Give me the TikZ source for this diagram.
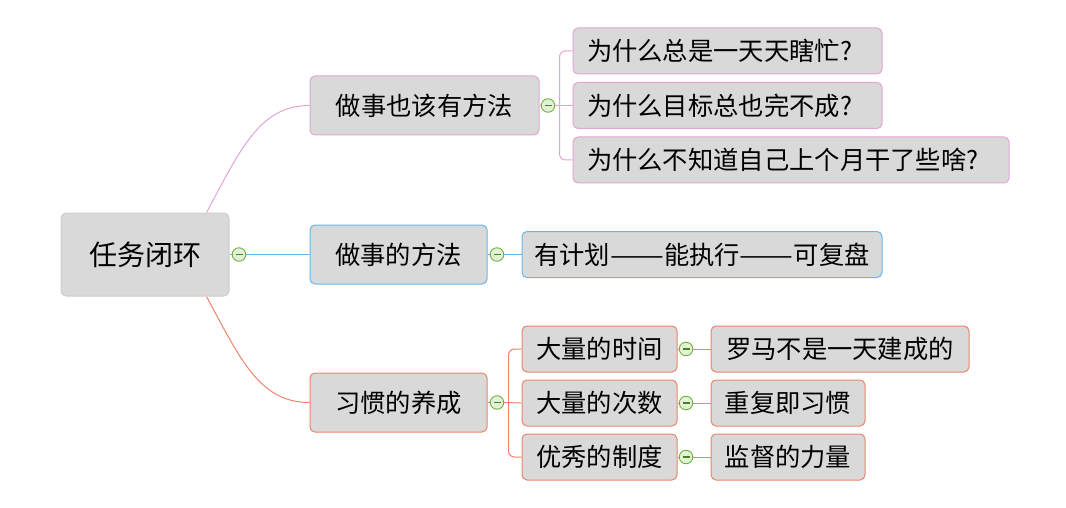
\documentclass[tikz,border=0pt]{standalone}
\usepackage{fontspec}
\newfontfamily\cjk{Noto Sans CJK SC}
\usetikzlibrary{calc,backgrounds}
\definecolor{boxfill}{RGB}{217,217,217}
\definecolor{rootborder}{RGB}{205,205,205}
\definecolor{cpink}{RGB}{228,164,214}
\definecolor{cblue}{RGB}{104,182,234}
\definecolor{corange}{RGB}{234,132,106}
\definecolor{cgreen}{RGB}{112,176,62}
\definecolor{cfill}{RGB}{226,242,212}
\definecolor{cdark}{RGB}{70,130,40}
\newcommand{\longdash}{\scalebox{1.27}[1]{——}}
\newcommand{\lefttext}[2]{\makebox[#1][l]{\hspace{14pt}#2}}
\tikzset{
  box/.style={draw, fill=boxfill, rounded corners=5pt, line width=1pt, inner sep=0pt,
    text=black, font=\cjk\fontsize{25.3}{30}\selectfont},
  rootbox/.style={box, draw=rootborder, font=\cjk\fontsize{28}{34}\selectfont,
    minimum width=168pt, minimum height=83pt},
  pinkbox/.style={box, draw=cpink},
  bluebox/.style={box, draw=cblue},
  orangebox/.style={box, draw=corange},
  collapse/.style={circle, draw=cgreen, fill=cfill, minimum size=13.5pt, inner sep=0pt,
    line width=0.9pt,
    path picture={\draw[cdark, line width=1.1pt]
      ($(path picture bounding box.center)+(-3.5,0)$) -- ++(7,0);}},
  conn/.style={line width=1pt},
}
\begin{document}
\begin{tikzpicture}[x=1pt,y=-1pt]
\useasboundingbox (0,0) rectangle (1066,508);
% root
\node[rootbox] (root) at (145,254.5) {任务闭环};
\node[collapse] (rc) at (239,254.5) {};
% branch 1
\node[pinkbox, minimum width=229pt, minimum height=59pt] (b1) at (424.5,105.5) {做事也该有方法};
\node[collapse] (b1c) at (548,105.5) {};
\node[pinkbox, minimum width=309pt, minimum height=46pt] (c11) at (727.5,51) {\lefttext{309pt}{为什么总是一天天瞎忙?}};
\node[pinkbox, minimum width=309pt, minimum height=46pt] (c12) at (727.5,105.5) {\lefttext{309pt}{为什么目标总也完不成?}};
\node[pinkbox, minimum width=436pt, minimum height=46pt] (c13) at (791,160) {\lefttext{436pt}{为什么不知道自己上个月干了些啥?}};
% branch 2
\node[bluebox, minimum width=177pt, minimum height=59pt] (b2) at (398.5,254.5) {做事的方法};
\node[collapse] (b2c) at (497,254.5) {};
\node[bluebox, minimum width=360pt, minimum height=46pt] (c21) at (702,254.5) {有计划\longdash 能执行\longdash 可复盘};
% branch 3
\node[orangebox, minimum width=177pt, minimum height=59pt] (b3) at (398.5,402.5) {习惯的养成};
\node[collapse] (b3c) at (497,402.5) {};
\node[orangebox, minimum width=155pt, minimum height=46pt] (c31) at (599.5,349) {大量的时间};
\node[orangebox, minimum width=155pt, minimum height=46pt] (c32) at (599.5,403) {大量的次数};
\node[orangebox, minimum width=155pt, minimum height=46pt] (c33) at (599.5,457) {优秀的制度};
\node[collapse] (c31c) at (686,349) {};
\node[collapse] (c32c) at (686,403) {};
\node[collapse] (c33c) at (686,457) {};
\node[orangebox, minimum width=258pt, minimum height=46pt] (g1) at (840,349) {罗马不是一天建成的};
\node[orangebox, minimum width=154pt, minimum height=46pt] (g2) at (788,403) {重复即习惯};
\node[orangebox, minimum width=154pt, minimum height=46pt] (g3) at (788,457) {监督的力量};
% connectors
\begin{scope}[on background layer]
  \draw[conn, cpink] ($(root.north east)+(-23,0)$) .. controls +(34,-63) and +(-50,0) .. (b1.west);
  \draw[conn, corange] ($(root.south east)+(-23,0)$) .. controls +(34,63) and +(-50,0) .. (b3.west);
  \draw[conn, cblue] (root.east) -- (rc.west);
  \draw[conn, cblue] (rc.east) -- (b2.west);
  % branch 1 children
  \draw[conn, cpink] (b1.east) -- (b1c.west);
  \draw[conn, cpink] (b1c.east) -- (c12.west);
  \draw[conn, cpink, rounded corners=6pt] (c11.west) -- ++(-13,0) |- (c13.west);
  % branch 2
  \draw[conn, cblue] (b2.east) -- (b2c.west);
  \draw[conn, cblue] (b2c.east) -- (c21.west);
  % branch 3
  \draw[conn, corange] (b3.east) -- (b3c.west);
  \draw[conn, corange] (b3c.east) -- (c32.west);
  \draw[conn, corange, rounded corners=6pt] (c31.west) -- ++(-13,0) |- (c33.west);
  \draw[conn, corange] (c31.east) -- (c31c.west);
  \draw[conn, corange] (c32.east) -- (c32c.west);
  \draw[conn, corange] (c33.east) -- (c33c.west);
  \draw[conn, corange] (c31c.east) -- (g1.west);
  \draw[conn, corange] (c32c.east) -- (g2.west);
  \draw[conn, corange] (c33c.east) -- (g3.west);
\end{scope}
\end{tikzpicture}
\end{document}
